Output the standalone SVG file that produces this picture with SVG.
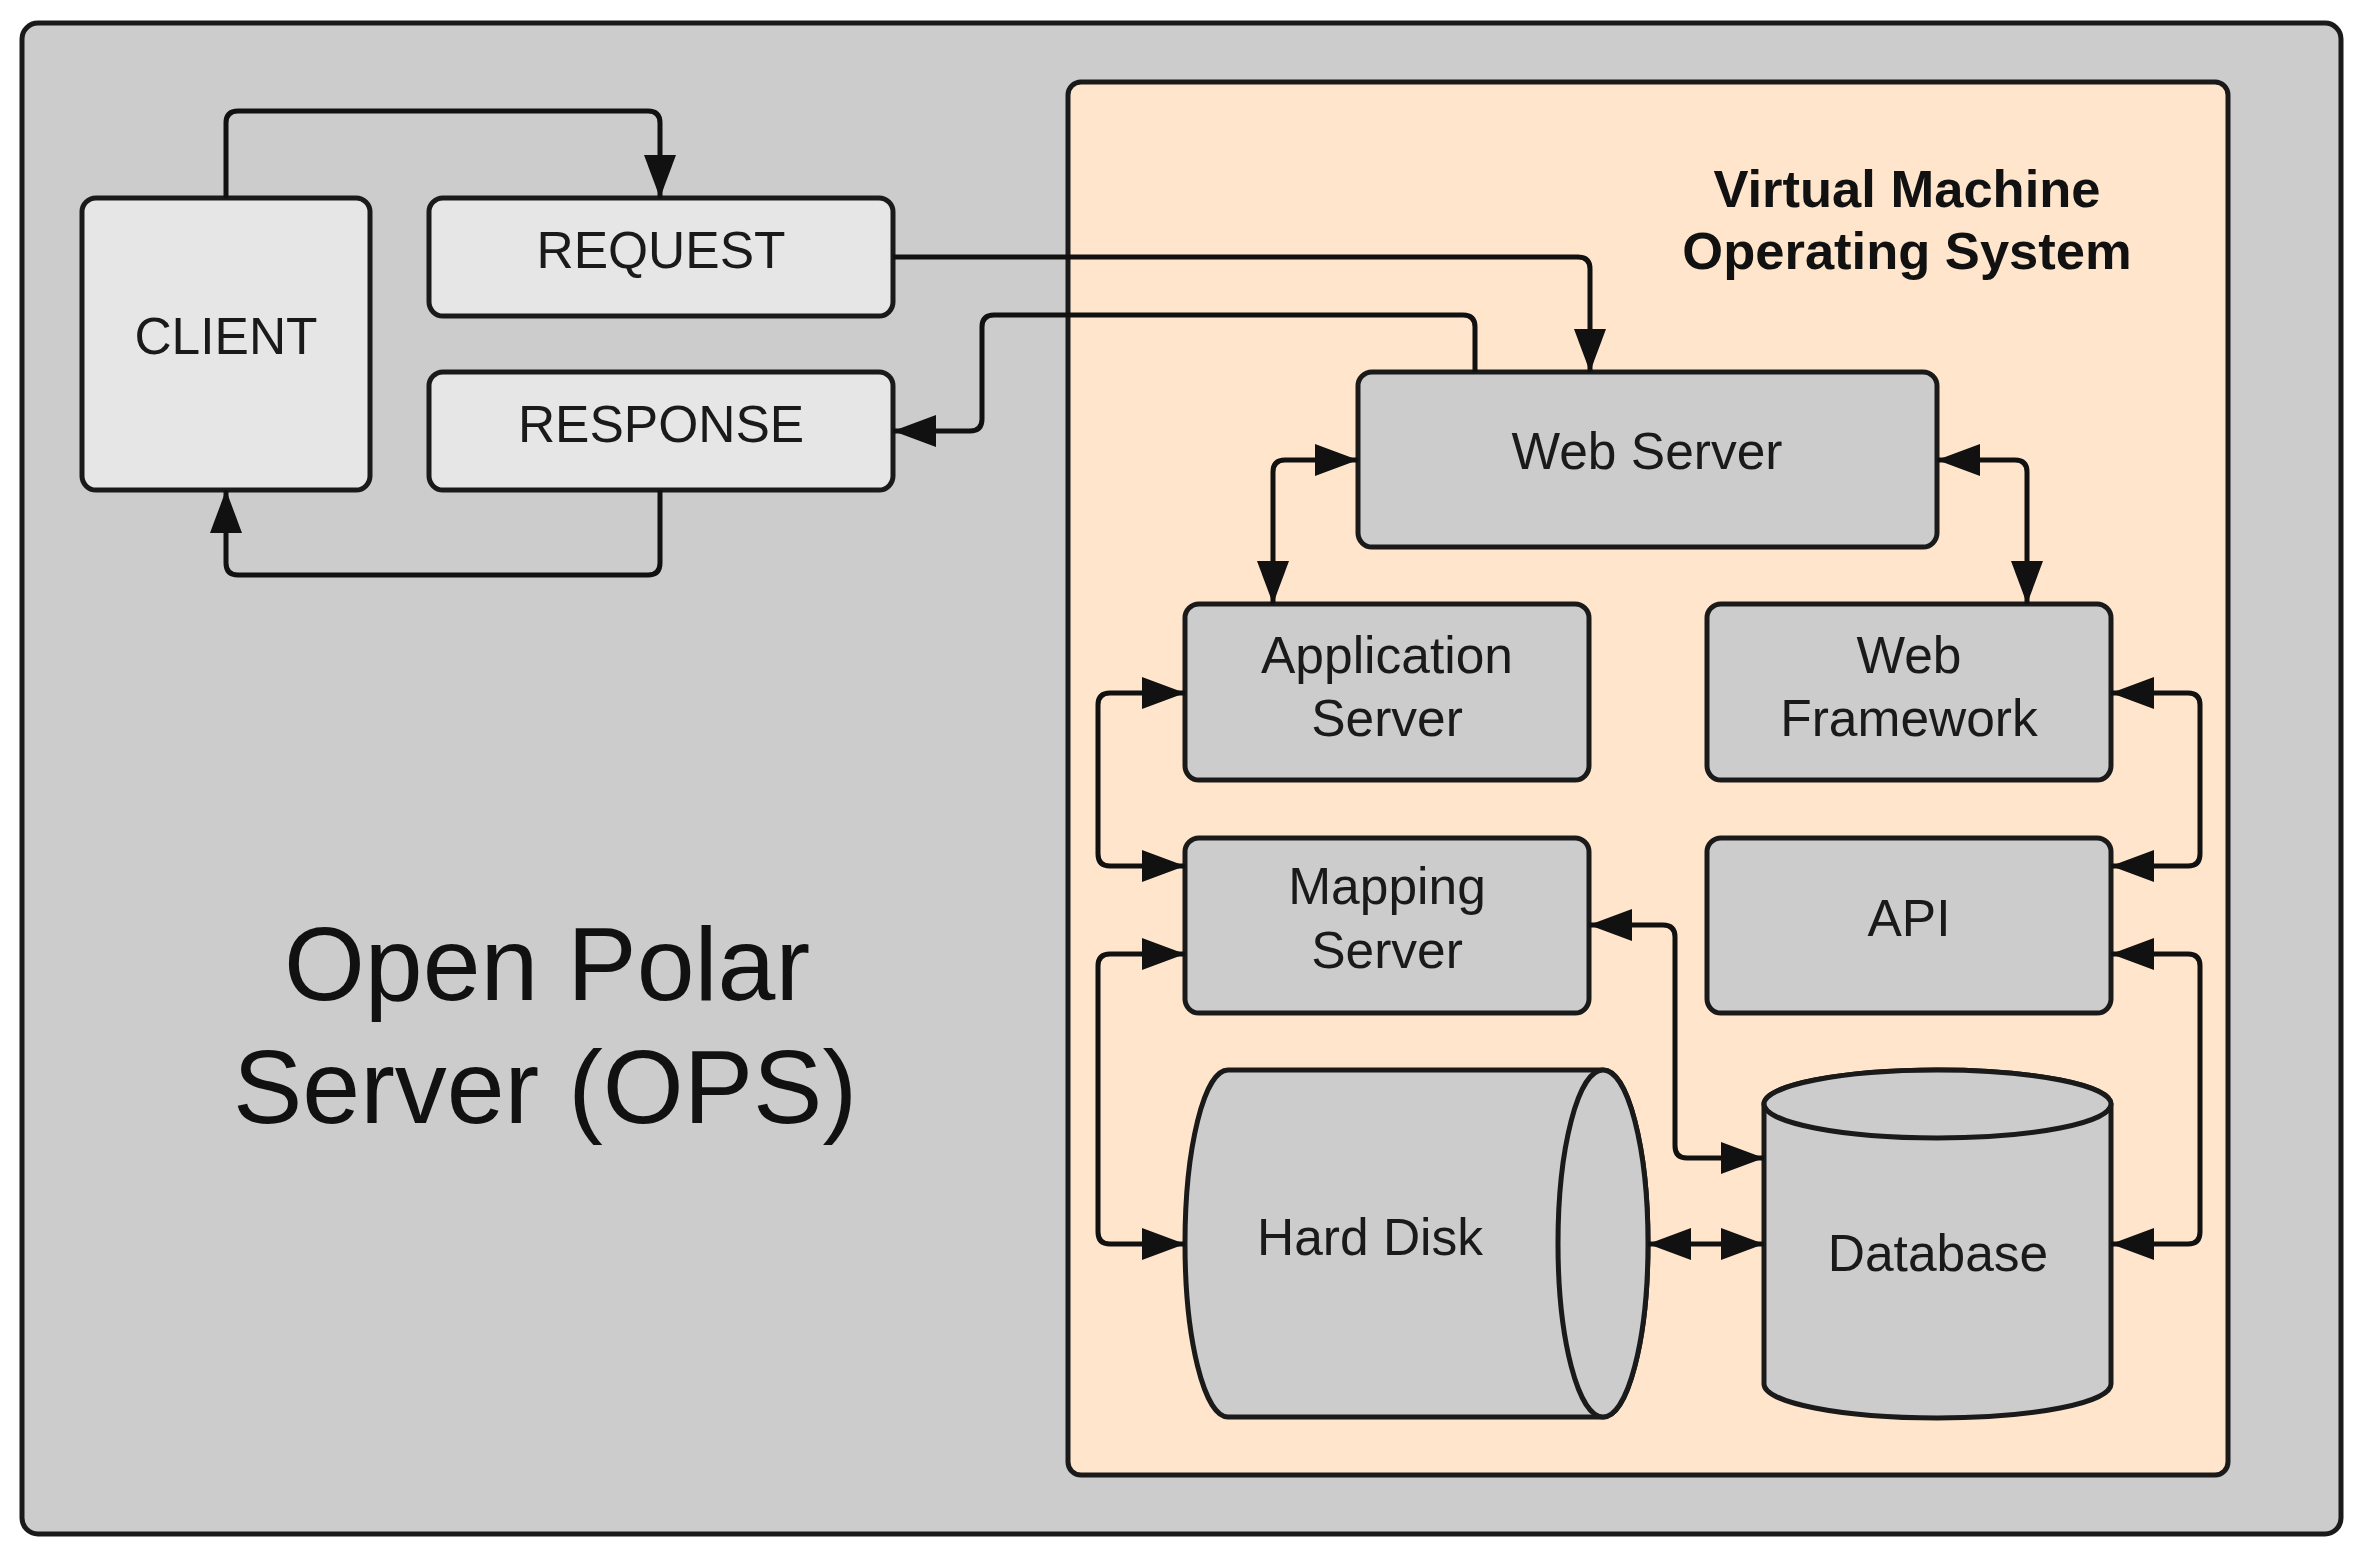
<svg xmlns="http://www.w3.org/2000/svg" width="2361" height="1550" viewBox="0 0 2361 1550">
<style>
.box{stroke:#1a1a1a;stroke-width:5}
.light{fill:#e6e6e6}
.mid{fill:#cccccc}
.t{font-family:"Liberation Sans",Arial,sans-serif;font-size:51.5px;fill:#1a1a1a;text-anchor:middle}
.tb{font-family:"Liberation Sans",Arial,sans-serif;font-size:52.5px;font-weight:bold;fill:#111;text-anchor:middle}
.big{font-family:"Liberation Sans",Arial,sans-serif;font-size:104px;fill:#111;text-anchor:middle}
.c{fill:none;stroke:#111;stroke-width:5}
</style>
<defs>
<marker id="ah" viewBox="0 0 43 32" refX="43" refY="16" markerWidth="43" markerHeight="32" markerUnits="userSpaceOnUse" orient="auto-start-reverse">
<path d="M0,0 L43,16 L0,32 Z" fill="#111"/>
</marker>
</defs>
<g id="ops">
<rect x="22" y="23" width="2319" height="1511" rx="16" fill="#cccccc" class="box"/>
<text class="big" x="547" y="1000">Open Polar</text>
<text class="big" x="545" y="1123">Server (OPS)</text>
</g>
<g id="vm">
<rect x="1068" y="82" width="1160" height="1393" rx="13" fill="#ffe5cc" class="box"/>
<text class="tb" x="1907" y="207">Virtual Machine</text>
<text class="tb" x="1907" y="269">Operating System</text>
</g>
<g id="client">
<rect x="82" y="198" width="288" height="292" rx="14" class="box light"/>
<text class="t" x="226" y="354">CLIENT</text>
</g>
<g id="request">
<rect x="429" y="198" width="464" height="118" rx="14" class="box light"/>
<text class="t" x="661" y="268">REQUEST</text>
</g>
<g id="response">
<rect x="429" y="372" width="464" height="118" rx="14" class="box light"/>
<text class="t" x="661" y="442">RESPONSE</text>
</g>
<g id="webserver">
<rect x="1358" y="372" width="579" height="175" rx="14" class="box mid"/>
<text class="t" x="1647" y="469">Web Server</text>
</g>
<g id="appserver">
<rect x="1185" y="604" width="404" height="176" rx="14" class="box mid"/>
<text class="t" x="1387" y="673">Application</text>
<text class="t" x="1387" y="736">Server</text>
</g>
<g id="webframework">
<rect x="1707" y="604" width="404" height="176" rx="14" class="box mid"/>
<text class="t" x="1909" y="673">Web</text>
<text class="t" x="1909" y="736">Framework</text>
</g>
<g id="mappingserver">
<rect x="1185" y="838" width="404" height="175" rx="14" class="box mid"/>
<text class="t" x="1387" y="904">Mapping</text>
<text class="t" x="1387" y="968">Server</text>
</g>
<g id="api">
<rect x="1707" y="838" width="404" height="175" rx="14" class="box mid"/>
<text class="t" x="1909" y="936">API</text>
</g>
<g id="harddisk">
<path d="M1228,1070 L1603,1070 A45,173.5 0 0 1 1603,1417 L1228,1417 A43,173.5 0 0 1 1228,1070 Z" class="box mid"/>
<ellipse cx="1603" cy="1243.5" rx="45" ry="173.5" class="box mid"/>
<text class="t" x="1370" y="1255">Hard Disk</text>
</g>
<g id="database">
<path d="M1764,1104 L1764,1384 A173.5,34 0 0 0 2111,1384 L2111,1104 A173.5,34 0 0 0 1764,1104 Z" class="box mid"/>
<ellipse cx="1937.5" cy="1104" rx="173.5" ry="34" class="box mid"/>
<text class="t" x="1938" y="1271">Database</text>
</g>
<g id="connectors">
<path class="c" marker-end="url(#ah)" d="M226,198 V123 Q226,111 238,111 H648 Q660,111 660,123 V198"/>
<path class="c" marker-end="url(#ah)" d="M660,490 V563 Q660,575 648,575 H238 Q226,575 226,563 V490"/>
<path class="c" marker-end="url(#ah)" d="M893,257 H1578 Q1590,257 1590,269 V372"/>
<path class="c" marker-end="url(#ah)" d="M1475,372 V327 Q1475,315 1463,315 H994 Q982,315 982,327 V419 Q982,431 970,431 H893"/>
<path class="c" marker-start="url(#ah)" marker-end="url(#ah)" d="M1358,460 H1285 Q1273,460 1273,472 V604"/>
<path class="c" marker-start="url(#ah)" marker-end="url(#ah)" d="M1937,460 H2015 Q2027,460 2027,472 V604"/>
<path class="c" marker-start="url(#ah)" marker-end="url(#ah)" d="M1185,693 H1110 Q1098,693 1098,705 V854 Q1098,866 1110,866 H1185"/>
<path class="c" marker-start="url(#ah)" marker-end="url(#ah)" d="M1185,954 H1110 Q1098,954 1098,966 V1232 Q1098,1244 1110,1244 H1185"/>
<path class="c" marker-start="url(#ah)" marker-end="url(#ah)" d="M2111,693 H2188 Q2200,693 2200,705 V854 Q2200,866 2188,866 H2111"/>
<path class="c" marker-start="url(#ah)" marker-end="url(#ah)" d="M2111,954 H2188 Q2200,954 2200,966 V1232 Q2200,1244 2188,1244 H2111"/>
<path class="c" marker-start="url(#ah)" marker-end="url(#ah)" d="M1589,925 H1663 Q1675,925 1675,937 V1146 Q1675,1158 1687,1158 H1764"/>
<path class="c" marker-start="url(#ah)" marker-end="url(#ah)" d="M1648,1244 H1764"/>
</g>
</svg>
